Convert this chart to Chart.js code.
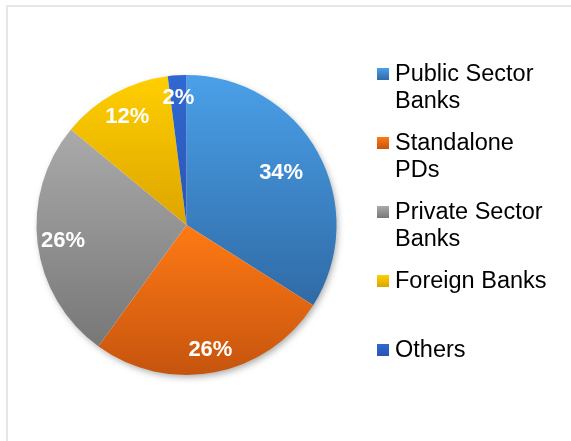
<!DOCTYPE html>
<html>
<head>
<meta charset="utf-8">
<script src="https://cdn.jsdelivr.net/npm/chart.js@4.4.1/dist/chart.umd.min.js"></script>
<style>
  html, body { margin: 0; padding: 0; background: #fff; overflow: hidden; }
  #wrap { position: relative; width: 571px; height: 441px; overflow: hidden; }
  #frame { position: absolute; left: 6px; top: 5px; width: 700px; height: 600px;
           border-top: 2px solid #e3e6ea; border-left: 2px solid #e3e6ea; box-sizing: border-box; }
  canvas { position: absolute; left: 0; top: 0; }
  #legend { position: absolute; left: 377px; top: 0; font-family: "Liberation Sans", Arial, sans-serif;
            font-size: 23.5px; color: #000; }
  .item { position: absolute; left: 0; white-space: nowrap; }
  .box { position: absolute; left: 0; width: 12px; height: 12px; }
  .txt { position: absolute; left: 18px; line-height: 27px; }
</style>
</head>
<body>
<div id="wrap">
  <div id="frame"></div>
  <canvas id="pie" width="571" height="441"></canvas>
  <div id="legend"></div>
</div>
<script>
// chart data
const categories = ['Public Sector Banks', 'Standalone PDs', 'Private Sector Banks', 'Foreign Banks', 'Others'];
const legendLines = [['Public Sector', 'Banks'], ['Standalone', 'PDs'], ['Private Sector', 'Banks'], ['Foreign Banks'], ['Others']];
const shares = [34, 26, 26, 12, 2];

// top / bottom colours of each slice gradient
const topColors = ['#4aa0e8', '#ff7a14', '#aaaaaa', '#ffcf00', '#3068d2'];
const bottomColors = ['#306aa6', '#c6540e', '#777777', '#dca500', '#2a55b4'];
const labelRadius = [0.72, 0.85, 0.83, 0.82, 0.85];

// vertical extent of a slice, used so each slice gets its own gradient
function sliceBounds(i, cy, r) {
    const total = shares.reduce((a, b) => a + b, 0);
    let before = 0;
    for (let k = 0; k < i; k++) before += shares[k];
    const a0 = -Math.PI / 2 + before / total * Math.PI * 2;
    const a1 = a0 + shares[i] / total * Math.PI * 2;
    const ys = [cy, cy + r * Math.sin(a0), cy + r * Math.sin(a1)];
    [Math.PI / 2, Math.PI * 3 / 2, -Math.PI / 2].forEach(function(a) {
        if (a > a0 && a < a1) ys.push(cy + r * Math.sin(a));
    });
    return [Math.min.apply(null, ys), Math.max.apply(null, ys)];
}

function sliceFill(context) {
    const chart = context.chart;
    const area = chart.chartArea;
    const i = context.dataIndex;
    if (!area) return topColors[i];
    const cx = (area.left + area.right) / 2;
    const cy = (area.top + area.bottom) / 2;
    const r = Math.min(area.right - area.left, area.bottom - area.top) / 2;
    const b = sliceBounds(i, cy, r);
    const g = chart.ctx.createLinearGradient(cx, b[0], cx, b[1]);
    g.addColorStop(0, topColors[i]);
    g.addColorStop(1, bottomColors[i]);
    return g;
}

// soft shadow under the whole pie
const pieShadow = {
    id: 'pieShadow',
    beforeDatasetsDraw(chart) {
        const arc = chart.getDatasetMeta(0).data[0];
        if (!arc) return;
        const ctx = chart.ctx;
        ctx.save();
        ctx.shadowColor = 'rgba(0,0,0,0.35)';
        ctx.shadowBlur = 7;
        ctx.shadowOffsetX = 2;
        ctx.shadowOffsetY = 3;
        ctx.fillStyle = '#ffffff';
        ctx.beginPath();
        ctx.arc(arc.x, arc.y, arc.outerRadius - 1, 0, Math.PI * 2);
        ctx.fill();
        ctx.restore();
    }
};

// percentage labels inside the slices
const sliceLabels = {
    id: 'sliceLabels',
    afterDatasetsDraw(chart) {
        const ctx = chart.ctx;
        ctx.save();
        ctx.fillStyle = '#ffffff';
        ctx.font = 'bold 22px "Liberation Sans", Arial, sans-serif';
        ctx.textAlign = 'center';
        ctx.textBaseline = 'middle';
        chart.getDatasetMeta(0).data.forEach(function(arc, i) {
            const mid = (arc.startAngle + arc.endAngle) / 2;
            const rr = arc.outerRadius * labelRadius[i];
            ctx.fillText(shares[i] + '%', arc.x + Math.cos(mid) * rr, arc.y + Math.sin(mid) * rr);
        });
        ctx.restore();
    }
};

new Chart(document.getElementById('pie'), {
    type: 'pie',
    data: {
        labels: categories,
        datasets: [{
            data: shares,
            backgroundColor: sliceFill,
            borderWidth: 0,
            hoverOffset: 0
        }]
    },
    options: {
        responsive: false,
        animation: false,
        layout: { padding: { left: 36, top: 75, right: 234, bottom: 66 } },
        plugins: {
            legend: { display: false },
            tooltip: { enabled: false }
        }
    },
    plugins: [pieShadow, sliceLabels]
});

// legend on the right, two text lines per entry
const legend = document.getElementById('legend');
const rowTop = [68, 137, 206, 275, 344];
categories.forEach(function(name, i) {
    const item = document.createElement('div');
    item.className = 'item';
    item.style.top = rowTop[i] + 'px';
    const box = document.createElement('div');
    box.className = 'box';
    box.style.background = 'linear-gradient(' + topColors[i] + ', ' + bottomColors[i] + ')';
    const txt = document.createElement('div');
    txt.className = 'txt';
    txt.style.top = '-8px';
    txt.innerHTML = legendLines[i].join('<br>');
    item.appendChild(box);
    item.appendChild(txt);
    legend.appendChild(item);
});
</script>
</body>
</html>
